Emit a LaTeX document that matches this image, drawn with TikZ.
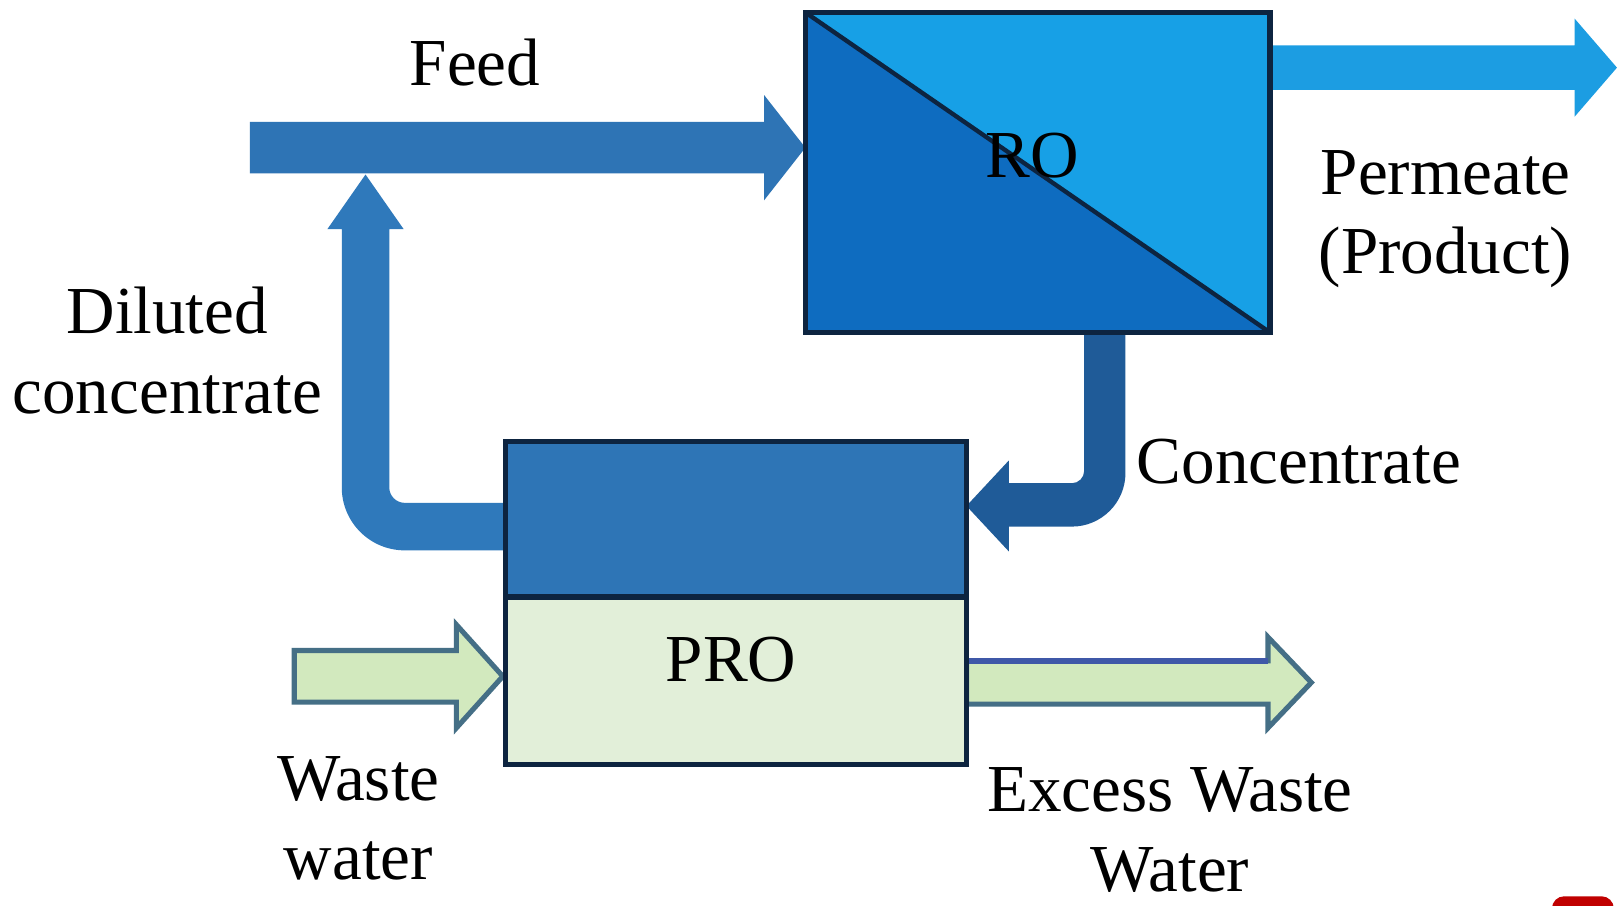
\documentclass[tikz,border=0pt]{standalone}
\usepackage{fontspec}
\setmainfont{Liberation Serif}
\definecolor{roDark}{HTML}{0E6CC0}
\definecolor{roLight}{HTML}{17A0E6}
\definecolor{navy}{HTML}{0D2440}
\definecolor{feedBlue}{HTML}{2E74B5}
\definecolor{permBlue}{HTML}{1C9DE2}
\definecolor{dilBlue}{HTML}{2F79BB}
\definecolor{concBlue}{HTML}{1F5B98}
\definecolor{proTop}{HTML}{2E75B6}
\definecolor{proBot}{HTML}{E2EFD9}
\definecolor{wwFill}{HTML}{D2E9BE}
\definecolor{wwLine}{HTML}{456F86}
\definecolor{exTop}{HTML}{3F58A8}
\definecolor{wmRed}{HTML}{C00000}
\begin{document}
\begin{tikzpicture}[
  boxnode/.style={rectangle, inner sep=0pt, outer sep=0pt},
  lbl/.style={font=\fontsize{18.5}{21.9}\selectfont, align=center, anchor=base, inner sep=0pt},
  greenarrow/.style={fill=wwFill, draw=wwLine, line width=1.4pt, line join=miter},
  frame/.style={draw=navy, line width=1.4pt}
]
\useasboundingbox[fill=white] (0,0) rectangle (15.68,-8.77);

% unit nodes (drawn later, after the arrows)
\node[boxnode, minimum width=4.5cm, minimum height=3.1cm] (ro) at (10.05,-1.67) {};
\node[boxnode, minimum width=4.46cm, minimum height=3.12cm] (pro) at (7.13,-5.84) {};

% end points
\coordinate (feedtail) at (2.42,-1.43);
\coordinate (permtip) at (15.66,-0.655);
\coordinate (diltip) at (3.54,-1.69);
\coordinate (wwtail) at (2.85,-6.55);
\coordinate (wwtip) at (4.87,-6.55);
\coordinate (extip) at (12.70,-6.61);

% Feed arrow
\fill[feedBlue] (feedtail |- 0,-1.18) -- (7.40,-1.18) -- (7.40,-0.92)
  -- (ro.west |- feedtail) -- (7.40,-1.94) -- (7.40,-1.68) -- (feedtail |- 0,-1.68) -- cycle;

% Permeate arrow
\fill[permBlue] (ro.east |- 0,-0.44) -- (15.25,-0.44) -- (15.25,-0.18) -- (permtip)
  -- (15.25,-1.13) -- (15.25,-0.87) -- (ro.east |- 0,-0.87) -- cycle;

% Diluted concentrate arrow (PRO -> feed line)
\fill[dilBlue] (pro.west |- 0,-4.87) -- (3.92,-4.87) arc[start angle=270,end angle=180,radius=0.15]
  -- (3.77,-2.22) -- (3.91,-2.22) -- (diltip) -- (3.17,-2.22) -- (3.31,-2.22)
  -- (3.31,-4.72) arc[start angle=180,end angle=270,radius=0.61] -- (pro.west |- 0,-5.33) -- cycle;

% Concentrate arrow (RO -> PRO)
\fill[concBlue] (10.50,-3.2) -- (10.50,-4.56) arc[start angle=0,end angle=-90,radius=0.12]
  -- (9.77,-4.68) -- (9.77,-4.46) -- (pro.east |- 0,-4.90) -- (9.77,-5.34) -- (9.77,-5.10)
  -- (10.38,-5.10) arc[start angle=270,end angle=360,radius=0.52] -- (10.90,-3.2) -- cycle;

% Waste water arrow
\draw[greenarrow] (wwtail |- 0,-6.30) -- (4.42,-6.30) -- (4.42,-6.05) -- (wwtip)
  -- (4.42,-7.05) -- (4.42,-6.80) -- (wwtail |- 0,-6.80) -- cycle;

% Excess waste water arrow
\draw[greenarrow] (pro.east |- 0,-6.40) -- (12.28,-6.40) -- (12.28,-6.17) -- (extip)
  -- (12.28,-7.05) -- (12.28,-6.82) -- (pro.east |- 0,-6.82) -- cycle;
\draw[exTop, line width=1.6pt] (pro.east |- 0,-6.40) -- (12.28,-6.40);

% RO unit
\fill[roDark] (ro.south west) -- (ro.north west) -- (ro.south east) -- cycle;
\fill[roLight] (ro.north west) -- (ro.north east) -- (ro.south east) -- cycle;
\draw[navy, line width=1.2pt] (ro.north west) -- (ro.south east);
\draw[frame] (ro.south west) rectangle (ro.north east);

% PRO unit
\coordinate (prodiv) at (0,-5.78);
\fill[proTop] (pro.north west) rectangle (pro.east |- prodiv);
\fill[proBot] (pro.west |- prodiv) rectangle (pro.south east);
\draw[navy, line width=1.6pt] (pro.west |- prodiv) -- (pro.east |- prodiv);
\draw[frame] (pro.south west) rectangle (pro.north east);

% labels (base = baseline of the last line)
\node[lbl] (lro) at (10.00,-1.72) {RO};
\node[lbl] (lpro) at (7.08,-6.60) {PRO};
\node[lbl] (lfeed) at (4.60,-0.83) {Feed};
\node[lbl] (ldil) at (1.62,-4.00) {Diluted\\concentrate};
\node[lbl] (lperm) at (14.00,-2.65) {Permeate\\(Product)};
\node[lbl] (lconc) at (12.58,-4.68) {Concentrate};
\node[lbl] (lww) at (3.47,-8.52) {Waste\\water};
\node[lbl] (lex) at (11.33,-8.63) {Excess Waste\\Water};

% partial red mark at the lower right corner
\fill[wmRed, rounded corners=0.12cm] (15.03,-9.0) -- (15.03,-8.68) -- (15.63,-8.68) -- (15.63,-9.0) -- cycle;
\end{tikzpicture}
\end{document}
